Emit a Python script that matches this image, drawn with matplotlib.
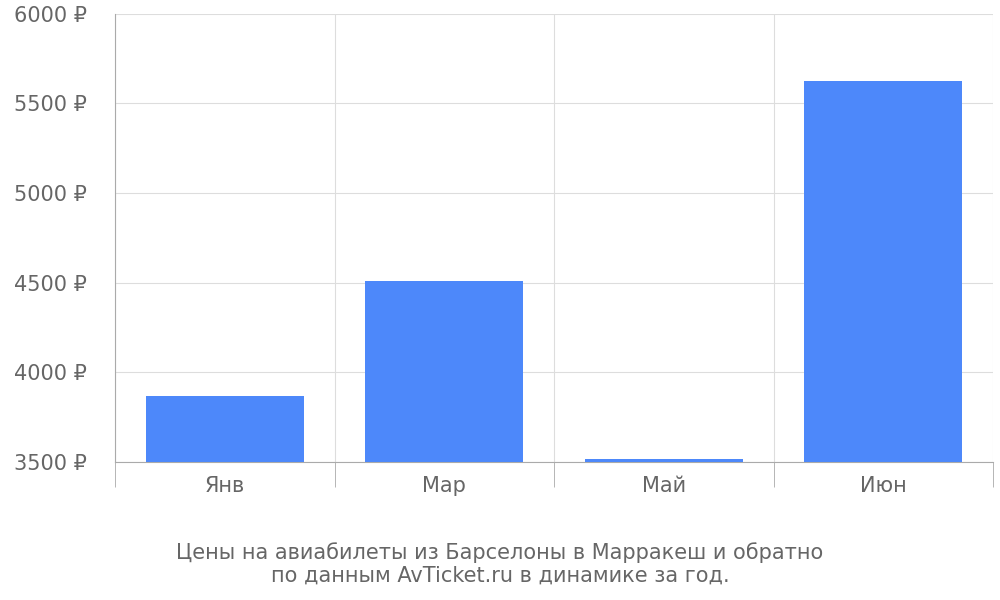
import matplotlib
matplotlib.use("Agg")
import matplotlib.pyplot as plt

categories = ["Янв", "Мар", "Май", "Июн"]
prices = [3870, 4512, 3517, 5625]
yticks = [3500, 4000, 4500, 5000, 5500, 6000]

fig = plt.figure(figsize=(10, 6), dpi=100)
ax = fig.add_axes([0.115, 0.23, 0.878, 0.747])
x = list(range(len(categories)))
ax.bar(x, prices, width=0.72, color="#4d88fa", zorder=3, bottom=0)
ax.set_ylim(3500, 6000)
ax.set_xlim(-0.5, len(categories) - 0.5)
ax.set_yticks(yticks)
ax.set_yticklabels([f"{v} ₽" for v in yticks], fontsize=15, color="#666666")
ax.set_xticks(x)
ax.set_xticklabels(categories, fontsize=15, color="#666666")
ax.set_xticks([i - 0.5 for i in range(len(categories) + 1)], minor=True)
ax.tick_params(axis="x", which="major", length=0, pad=10)
ax.tick_params(axis="x", which="minor", length=18, color="#aaaaaa")
ax.tick_params(axis="y", length=0, pad=20)
ax.grid(axis="y", color="#dddddd", zorder=0)
ax.grid(axis="x", which="minor", color="#dddddd", zorder=0)
for s in ["top", "right"]:
    ax.spines[s].set_visible(False)
ax.spines["left"].set_color("#aaaaaa")
ax.spines["bottom"].set_color("#aaaaaa")
fig.text(0.5, 0.06, "Цены на авиабилеты из Барселоны в Марракеш и обратно\nпо данным AvTicket.ru в динамике за год.",
         ha="center", va="center", fontsize=15, color="#666666", linespacing=1.2)
fig.savefig("out.png")
